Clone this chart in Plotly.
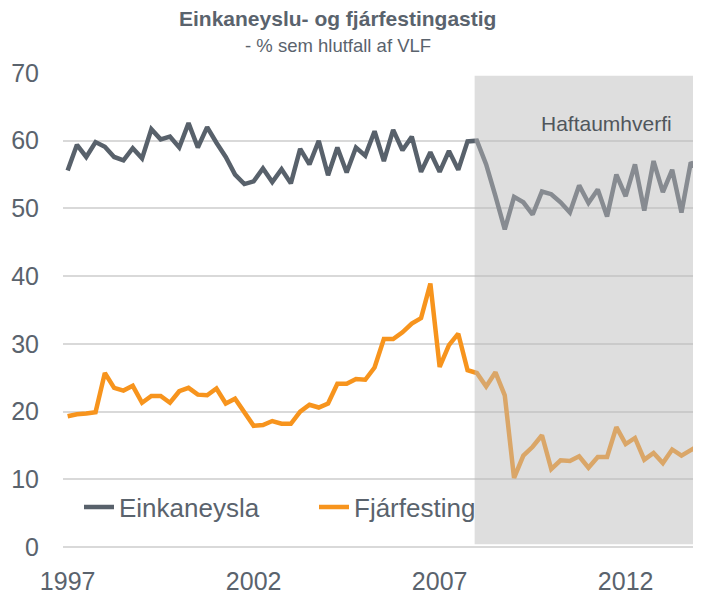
import plotly.graph_objects as go

# Quarterly data 1997Q1 - 2014Q1
quarters = [f"{y}Q{q}" for y in range(1997, 2015) for q in range(1, 5)][:69]

einkaneysla = [
    55.6, 59.4, 57.6, 59.8, 59.1, 57.6, 57.1, 58.9, 57.4, 61.7,
    60.2, 60.6, 59.0, 62.6, 59.0, 62.0, 59.7, 57.6, 55.0, 53.6,
    54.0, 55.9, 53.9, 55.8, 53.7, 58.8, 56.5, 60.0, 54.9, 59.0,
    55.3, 59.0, 57.8, 61.4, 57.0, 61.6, 58.6, 60.6, 55.4, 58.3,
    55.4, 58.5, 55.7, 59.9, 60.0, 56.5, 51.8, 46.9, 51.7, 50.9,
    49.1, 52.5, 52.1, 50.9, 49.4, 53.4, 50.8, 52.8, 48.8, 55.0,
    51.8, 56.5, 49.7, 57.0, 52.4, 55.7, 49.4, 56.8, 55.3,
]

fjarfesting = [
    19.3, 19.6, 19.7, 19.9, 25.7, 23.5, 23.1, 23.8, 21.3, 22.3,
    22.3, 21.3, 23.0, 23.5, 22.5, 22.4, 23.4, 21.2, 21.9, 20.0,
    17.9, 18.0, 18.6, 18.2, 18.2, 20.0, 21.0, 20.6, 21.2, 24.1,
    24.1, 24.8, 24.7, 26.5, 30.7, 30.7, 31.7, 33.0, 33.8, 38.9,
    26.6, 29.8, 31.5, 26.1, 25.7, 23.7, 25.8, 22.4, 10.2, 13.5,
    14.8, 16.5, 11.5, 12.8, 12.7, 13.4, 11.7, 13.3, 13.3, 17.7,
    15.2, 16.1, 12.9, 13.9, 12.4, 14.4, 13.5, 14.3, 15.1,
]

tick_years = [1997, 2002, 2007, 2012]
shade_start = 2007.94   # start of "Haftaumhverfi" period

x = [int(q[:4]) + (int(q[-1]) - 1) / 4 for q in quarters]

TEXT = "#5a636d"
GREY = "#58616b"
ORANGE = "#f7941d"
FONT = "Liberation Sans, Arial, sans-serif"

fig = go.Figure()
fig.add_trace(go.Scatter(x=x, y=einkaneysla, mode="lines", name="Einkaneysla",
                         line=dict(color=GREY, width=4.5)))
fig.add_trace(go.Scatter(x=x, y=fjarfesting, mode="lines", name="Fjárfesting",
                         line=dict(color=ORANGE, width=4.5)))

# semi-transparent overlay for the "Haftaumhverfi" period
fig.add_shape(type="rect", xref="x", yref="y", x0=shade_start, x1=2014.5,
              y0=0.4, y1=69.6, fillcolor="rgba(186,186,186,0.48)",
              line=dict(width=0), layer="above")

fig.add_annotation(x=2011.49, y=62.5, xref="x", yref="y", text="Haftaumhverfi",
                   showarrow=False, font=dict(family=FONT, size=21, color="#50565c"))

fig.add_annotation(x=0.4365, y=1.116, xref="paper", yref="paper", yanchor="middle",
                   text="<b>Einkaneyslu- og fjárfestingastig</b>", showarrow=False,
                   font=dict(family=FONT, size=21, color=TEXT))
fig.add_annotation(x=0.4365, y=1.059, xref="paper", yref="paper", yanchor="middle",
                   text="- % sem hlutfall af VLF", showarrow=False,
                   font=dict(family=FONT, size=18.5, color=TEXT))

fig.update_layout(
    width=685, height=585,
    margin=dict(l=55, r=0, t=65, b=46, pad=0, autoexpand=False),
    paper_bgcolor="white", plot_bgcolor="white",
    font=dict(family=FONT, size=25, color=TEXT),
    showlegend=True,
    legend=dict(orientation="h", x=0.0254, y=0.084, xanchor="left", yanchor="middle",
                bgcolor="rgba(0,0,0,0)", font=dict(family=FONT, size=26, color=TEXT),
                itemwidth=30, entrywidth=190, entrywidthmode="pixels"),
)
fig.update_xaxes(range=[1996.875, 2013.81], tickvals=tick_years,
                 ticktext=[str(t) for t in tick_years], automargin=False,
                 showgrid=False, zeroline=False, showline=False,
                 ticks="outside", ticklen=12, tickcolor="rgba(0,0,0,0)",
                 tickfont=dict(family=FONT, size=25, color=TEXT))
fig.update_yaxes(range=[0, 70], dtick=10, showgrid=True, gridcolor="#d9d9d9",
                 gridwidth=1.5, zeroline=True, zerolinecolor="#d9d9d9",
                 zerolinewidth=1.5, showline=False, automargin=False,
                 ticks="outside", ticklen=18, tickcolor="rgba(0,0,0,0)",
                 tickfont=dict(family=FONT, size=25, color=TEXT))

fig.write_html("out.html")
